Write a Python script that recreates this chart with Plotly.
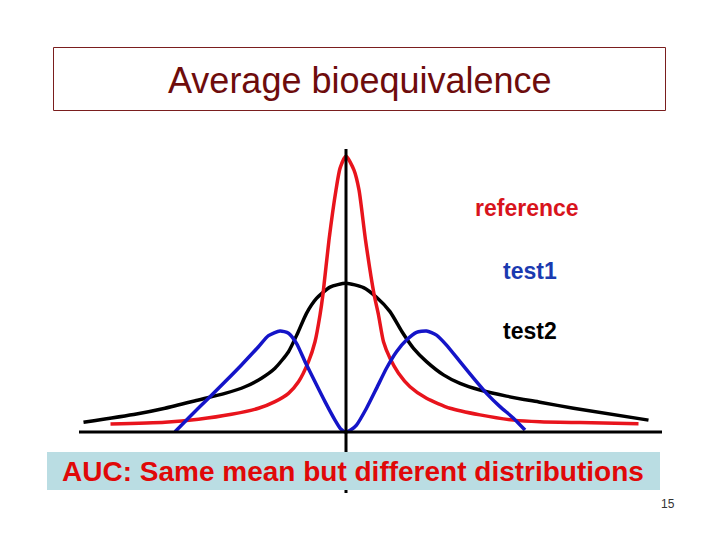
import plotly.graph_objects as go

W, H = 720, 540

# ---- data (x: mean at 0, y: reference peak = 1) ----
ref_x = [-4.71, -3.62, -2.95, -2.29, -1.75, -1.42, -1.15, -0.95, -0.75, -0.62, -0.52, -0.46,
         -0.34, -0.20, -0.12, 0.0, 0.16, 0.26, 0.39, 0.56, 0.65, 0.75, 0.88, 1.05, 1.28, 1.61,
         2.08, 2.68, 3.35, 3.88, 4.68, 5.85]
ref_y = [0.029, 0.035, 0.046, 0.064, 0.086, 0.110, 0.140, 0.182, 0.255, 0.327, 0.424, 0.500,
         0.696, 0.877, 0.955, 1.0, 0.949, 0.877, 0.696, 0.500, 0.424, 0.327, 0.267, 0.213,
         0.164, 0.122, 0.086, 0.062, 0.043, 0.037, 0.034, 0.030]

test2_x = [-5.25, -4.19, -3.62, -2.95, -2.42, -2.02, -1.69, -1.42, -1.15, -0.97, -0.79, -0.59,
           -0.32, 0.0, 0.35, 0.61, 0.88, 1.12, 1.35, 1.61, 1.95, 2.28, 2.68, 3.21, 3.88, 4.55,
           6.05]
test2_y = [0.035, 0.065, 0.086, 0.116, 0.140, 0.164, 0.195, 0.231, 0.291, 0.357, 0.430, 0.484,
           0.525, 0.539, 0.523, 0.488, 0.436, 0.363, 0.303, 0.255, 0.207, 0.176, 0.152, 0.130,
           0.108, 0.086, 0.043]

test1_x = [-3.42, -3.09, -2.75, -2.42, -2.09, -1.75, -1.55, -1.32, -1.15, -0.99, -0.82, -0.62,
           -0.42, -0.22, -0.11, 0.0, 0.10, 0.21, 0.41, 0.61, 0.81, 1.01, 1.21, 1.41, 1.61, 1.81,
           2.01, 2.28, 2.55, 2.81, 3.08, 3.35, 3.58]
test1_y = [0.001, 0.062, 0.122, 0.182, 0.243, 0.309, 0.349, 0.366, 0.358, 0.321, 0.255, 0.182,
           0.110, 0.043, 0.012, 0.0, 0.008, 0.025, 0.086, 0.158, 0.231, 0.291, 0.333, 0.361,
           0.366, 0.351, 0.315, 0.255, 0.195, 0.140, 0.092, 0.050, 0.007]

labels = ["reference", "test1", "test2"]
label_colors = ["#d8141c", "#1a3ab0", "#000000"]
title_text = "Average bioequivalence"
footer_text = "AUC: Same mean but different distributions"
page_number = "15"

# ---- layout helpers (pixel -> paper) ----
def px(x):
    return x / W

def py(y):
    return 1 - y / H

X0, XS = 346.0, 50.0   # pixel of x=0, pixels per unit
Y0, YS = 432.0, 276.0  # pixel of y=0, pixels per unit

fig = go.Figure()
line_w = 3.5
sm = 0.6
fig.add_trace(go.Scatter(x=test2_x, y=test2_y, mode="lines",
                         line=dict(color="#000000", width=line_w, shape="spline", smoothing=sm)))
fig.add_trace(go.Scatter(x=ref_x, y=ref_y, mode="lines",
                         line=dict(color="#e8141c", width=line_w, shape="spline", smoothing=sm)))
fig.add_trace(go.Scatter(x=test1_x, y=test1_y, mode="lines",
                         line=dict(color="#1414c8", width=line_w, shape="spline", smoothing=sm)))

shapes = [
    # horizontal axis
    dict(type="line", xref="x", yref="y", x0=(79 - X0) / XS, x1=(662 - X0) / XS, y0=0, y1=0,
         line=dict(color="black", width=3), layer="above"),
    # vertical axis
    dict(type="line", xref="x", yref="y", x0=0, x1=0, y0=(Y0 - 149) / YS, y1=(Y0 - 493) / YS,
         line=dict(color="black", width=3), layer="above"),
    # footer box
    dict(type="rect", xref="paper", yref="paper", x0=px(47), x1=px(660), y0=py(490), y1=py(452),
         fillcolor="#badde3", line=dict(width=0), layer="above"),
    # title box
    dict(type="rect", xref="paper", yref="paper", x0=px(53.5), x1=px(665.5), y0=py(110.5), y1=py(47.5),
         fillcolor="rgba(0,0,0,0)", line=dict(color="#7a1e1e", width=1), layer="above"),
]

font = "Liberation Sans, Arial, sans-serif"
annotations = [
    dict(text=title_text, x=px(359.5), y=py(80), xref="paper", yref="paper", showarrow=False,
         xanchor="center", yanchor="middle", font=dict(family=font, size=36, color="#6e0c0c")),
    dict(text=f"<b>{footer_text}</b>", x=px(353), y=py(471), xref="paper", yref="paper",
         showarrow=False, xanchor="center", yanchor="middle",
         font=dict(family=font, size=28, color="#e00808")),
    dict(text=page_number, x=px(668), y=py(504), xref="paper", yref="paper", showarrow=False,
         xanchor="center", yanchor="middle", font=dict(family=font, size=12, color="#333333")),
]
label_pos = [(527, 208), (530, 271), (530, 331)]
for lab, col, (lx, ly) in zip(labels, label_colors, label_pos):
    annotations.append(dict(text=f"<b>{lab}</b>", x=px(lx), y=py(ly), xref="paper", yref="paper",
                            showarrow=False, xanchor="center", yanchor="middle",
                            font=dict(family=font, size=23, color=col)))

fig.update_layout(
    width=W, height=H, margin=dict(l=0, r=0, t=0, b=0),
    paper_bgcolor="white", plot_bgcolor="white", showlegend=False,
    xaxis=dict(range=[-X0 / XS, (W - X0) / XS], visible=False, fixedrange=True),
    yaxis=dict(range=[(Y0 - H) / YS, Y0 / YS], visible=False, fixedrange=True),
    shapes=shapes, annotations=annotations,
)

fig.write_html("out.html")
